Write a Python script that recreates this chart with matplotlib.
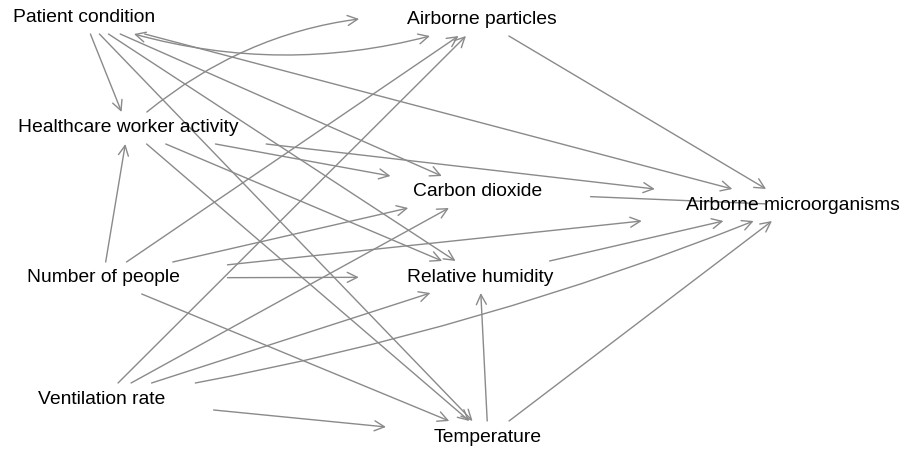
import matplotlib
matplotlib.use("Agg")
import matplotlib.pyplot as plt
from matplotlib.patches import FancyArrowPatch, Rectangle

# node layout (pixel-like coordinates, y grows downwards)
nodes = ["Patient condition", "Airborne particles", "Healthcare worker activity",
         "Carbon dioxide", "Airborne microorganisms", "Number of people",
         "Relative humidity", "Ventilation rate", "Temperature"]
node_x = [84, 482, 128, 478, 793, 103, 480, 102, 488]
node_y = [18, 20, 128, 192, 205, 278, 277, 399, 437]

PC, AP, HWA, CO2, AM, NP, RH, VR, T = nodes

# straight directed edges
edges = [(PC, HWA), (PC, T), (PC, RH), (PC, CO2), (PC, AM),
         (HWA, T), (HWA, RH), (HWA, CO2), (HWA, AM),
         (AP, AM), (RH, AM),
         (NP, HWA), (NP, AP), (NP, CO2), (NP, RH), (NP, T), (NP, AM),
         (VR, AP), (VR, CO2), (VR, RH), (VR, T),
         (T, RH), (T, AM)]
# curved edges: (from, to, curvature, style)
curved = [(HWA, AP, -0.23, "->"), (VR, AM, 0.06, "->"), (PC, AP, 0.18, "<->")]
# edge that runs into the label without a head
headless = [(CO2, AM)]

fig = plt.figure(figsize=(9.14, 4.5), dpi=100)
ax = fig.add_axes([0, 0, 1, 1])
ax.set_xlim(0, 914)
ax.set_ylim(450, 0)
ax.axis("off")

pos = dict(zip(nodes, zip(node_x, node_y)))
texts = {}
for n in nodes:
    texts[n] = ax.text(pos[n][0], pos[n][1], n, ha="center", va="center",
                       fontsize=13.9, family=["Liberation Sans", "DejaVu Sans"],
                       color="black", zorder=3)

fig.canvas.draw()
r = fig.canvas.get_renderer()
inv = ax.transData.inverted()
boxes = {}
padx, hh = 48, 16
for n in nodes:
    bb = texts[n].get_window_extent(r)
    (x0, _), (x1, _) = inv.transform([[bb.x0, bb.y0], [bb.x1, bb.y1]])
    w = abs(x1 - x0)
    x, y = pos[n]
    rect = Rectangle((x - w / 2 - padx, y - hh), w + 2 * padx, 2 * hh,
                     transform=ax.transData, facecolor="none", edgecolor="none")
    ax.add_patch(rect)
    boxes[n] = rect

col = "#8a8a8a"
head = ",head_length=0.4,head_width=0.2"

for a, b in edges:
    ax.add_patch(FancyArrowPatch(pos[a], pos[b], patchA=boxes[a], patchB=boxes[b],
                                 arrowstyle="->" + head, mutation_scale=18,
                                 shrinkA=0, shrinkB=0, color=col, lw=1.0, zorder=2))

for a, b, rad, st in curved:
    ax.add_patch(FancyArrowPatch(pos[a], pos[b], patchA=boxes[a], patchB=boxes[b],
                                 connectionstyle="arc3,rad=%s" % rad,
                                 arrowstyle=st + head, mutation_scale=18,
                                 shrinkA=0, shrinkB=0, color=col, lw=1.0, zorder=2))

for a, b in headless:
    ax.add_patch(FancyArrowPatch(pos[a], pos[b], patchA=boxes[a], patchB=None,
                                 arrowstyle="-", shrinkA=0, shrinkB=20,
                                 color=col, lw=1.0, zorder=2))

fig.savefig("out.png", dpi=100)
